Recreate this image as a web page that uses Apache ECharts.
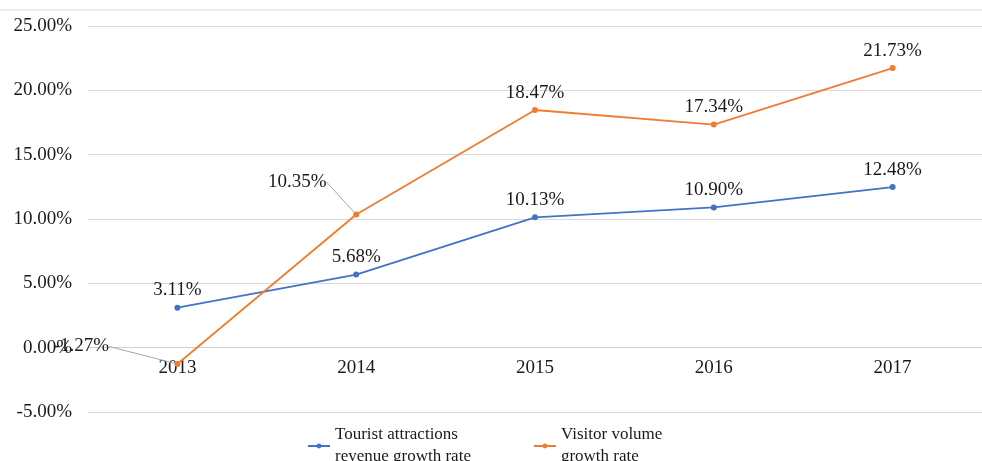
<!DOCTYPE html>
<html>
<head>
<meta charset="utf-8">
<script src="https://cdn.jsdelivr.net/npm/echarts@6/dist/echarts.min.js"></script>
<style>
  html, body { margin: 0; padding: 0; background: #fff; }
  #chart { width: 982px; height: 461px; }
</style>
</head>
<body>
<div id="chart"></div>
<script>
const years = ['2013', '2014', '2015', '2016', '2017'];
const revenueGrowth = [3.11, 5.68, 10.13, 10.90, 12.48];
const visitorGrowth = [-1.27, 10.35, 18.47, 17.34, 21.73];

// label nudges (dx, dy) per point, in pixels; a nudged label gets a leader line
const revenueNudge = [null, null, null, null, null];
const visitorNudge = [[-96, 0], [-59, -15], null, null, null];

const font = "'Liberation Serif', 'Times New Roman', serif";
const textColor = '#1a1a1a';
const yMin = -5, yMax = 25, yStep = 5;

const chart = echarts.init(document.getElementById('chart'));

function makeSeries(name, values, color, nudge) {
    return {
        name: name,
        type: 'line',
        data: values.map((v, i) => ({
            value: v,
            labelLine: { show: !!nudge[i] }
        })),
        symbol: 'circle',
        symbolSize: 6,
        lineStyle: { color: color, width: 1.8 },
        itemStyle: { color: color },
        label: {
            show: true,
            position: 'top',
            distance: 5,
            fontFamily: font,
            fontSize: 19,
            color: textColor,
            formatter: p => p.value.toFixed(2) + '%'
        },
        labelLine: {
            show: false,
            lineStyle: { color: '#a6a6a6', width: 1 }
        },
        labelLayout: function (params) {
            const n = nudge[params.dataIndex];
            return n ? { dx: n[0], dy: n[1] } : {};
        },
        emphasis: { disabled: true },
        z: name.indexOf('Visitor') === 0 ? 3 : 2
    };
}

const gridTop = 26, gridBottom = 49, gridHeight = 461 - gridTop - gridBottom;
// move the category axis up to the zero line, as in the original
const zeroOffset = -gridHeight * (0 - yMin) / (yMax - yMin);

const option = {
    animation: false,
    backgroundColor: '#fff',
    textStyle: { fontFamily: font },
    grid: { left: 88, top: gridTop, width: 905, bottom: gridBottom, containLabel: false },
    graphic: [{
        type: 'line',
        shape: { x1: 0, y1: 10, x2: 982, y2: 10 },
        style: { stroke: '#d9d9d9', lineWidth: 1 },
        silent: true
    }],
    legend: {
        left: 302,
        top: 419,
        itemWidth: 22,
        itemHeight: 6,
        itemGap: 62,
        textStyle: { fontFamily: font, fontSize: 17, color: textColor, lineHeight: 22 },
        data: [
            { name: 'Tourist attractions\nrevenue growth rate' },
            { name: 'Visitor volume\ngrowth rate' }
        ]
    },
    xAxis: {
        type: 'category',
        data: years,
        offset: zeroOffset,
        axisLine: { onZero: false, lineStyle: { color: '#d0d0d0', width: 1 } },
        axisTick: { show: false },
        axisLabel: { margin: 11, fontFamily: font, fontSize: 19, color: textColor }
    },
    yAxis: {
        type: 'value',
        min: yMin,
        max: yMax,
        interval: yStep,
        axisLine: { show: false },
        axisTick: { show: false },
        splitLine: { lineStyle: { color: '#d9d9d9', width: 1 } },
        axisLabel: {
            margin: 16,
            fontFamily: font,
            fontSize: 19,
            color: textColor,
            formatter: v => v.toFixed(2) + '%'
        }
    },
    series: [
        makeSeries('Tourist attractions\nrevenue growth rate', revenueGrowth, '#4472c4', revenueNudge),
        makeSeries('Visitor volume\ngrowth rate', visitorGrowth, '#ed7d31', visitorNudge)
    ]
};

chart.setOption(option);
</script>
</body>
</html>
